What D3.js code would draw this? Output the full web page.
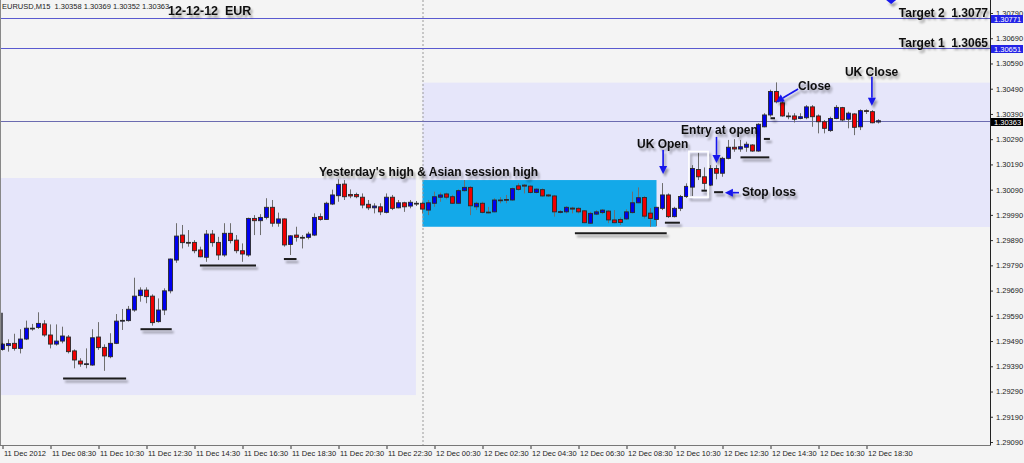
<!DOCTYPE html>
<html><head><meta charset="utf-8">
<script src="https://cdn.jsdelivr.net/npm/d3@7"></script>
<style>
html,body{margin:0;padding:0;background:#f4f4f4;}
svg{display:block;}
.lbl{font-family:"Liberation Sans",Arial,sans-serif;font-weight:bold;font-size:12px;fill:#111;white-space:pre;}
.ax text{font-family:"Liberation Sans",Arial,sans-serif;font-size:7.5px;fill:#222;}
.small{font-family:"Liberation Sans",Arial,sans-serif;font-size:7.5px;fill:#222;white-space:pre;}
</style></head><body>
<svg id="c" width="1024" height="463"></svg>
<script>
// ---- data (EURUSD M15, 11 Dec 06:30 -> 12 Dec 19:00) ----
const open=[1.29457,1.29472,1.29481,1.29461,1.29498,1.29541,1.29544,1.29558,1.29514,1.29478,
1.29490,1.29506,1.29451,1.29411,1.29399,1.29395,1.29506,1.29465,1.29428,1.29481,
1.29569,1.29571,1.29613,1.29670,1.29692,1.29668,1.29567,1.29613,1.29689,1.29811,
1.29910,1.29881,1.29881,1.29851,1.29822,1.29914,1.29881,1.29831,1.29917,1.29890,
1.29848,1.29831,1.29976,1.29967,1.29980,1.30020,1.29957,1.29974,1.29873,1.29910,
1.29901,1.29901,1.29910,1.29983,1.29972,1.30033,1.30066,1.30112,1.30071,1.30071,
1.30060,1.30032,1.30018,1.30022,1.30000,1.30060,1.30018,1.30038,1.30025,1.30036,
1.30036,1.30009,1.30036,1.30060,1.30073,1.30062,1.30036,1.30086,1.30099,1.30022,
1.30036,1.30000,1.30002,1.30048,1.30048,1.30049,1.30105,1.30108,1.30104,1.30079,
1.30090,1.30069,1.30065,1.30002,1.30002,1.30017,1.30016,1.30006,1.29957,1.29993,
1.29999,1.30005,1.29970,1.29972,1.29974,1.29999,1.30038,1.30059,1.29997,1.29972,
1.30016,1.30069,1.29983,1.30016,1.30063,1.30100,1.30170,1.30141,1.30108,1.30174,
1.30155,1.30214,1.30258,1.30251,1.30258,1.30267,1.30243,1.30339,1.30386,1.30479,
1.30434,1.30382,1.30382,1.30372,1.30375,1.30418,1.30382,1.30359,1.30324,1.30372,
1.30415,1.30369,1.30390,1.30339,1.30403,1.30399,1.30358];
const high=[1.29483,1.29497,1.29519,1.29537,1.29571,1.29558,1.29604,1.29573,1.29556,1.29556,
1.29547,1.29514,1.29457,1.29422,1.29461,1.29537,1.29565,1.29477,1.29521,1.29597,
1.29617,1.29629,1.29741,1.29703,1.29703,1.29675,1.29659,1.29699,1.29817,1.29957,
1.29950,1.29930,1.29890,1.29864,1.29930,1.29930,1.29903,1.29957,1.29957,1.29910,
1.29877,1.29979,1.29989,1.29993,1.30056,1.30049,1.29999,1.29976,1.29910,1.29943,
1.29910,1.29923,1.29996,1.29996,1.30042,1.30090,1.30131,1.30128,1.30091,1.30078,
1.30075,1.30049,1.30036,1.30036,1.30075,1.30069,1.30049,1.30042,1.30049,1.30045,
1.30042,1.30049,1.30082,1.30078,1.30078,1.30069,1.30091,1.30128,1.30104,1.30042,
1.30042,1.30022,1.30056,1.30060,1.30069,1.30098,1.30115,1.30112,1.30108,1.30095,
1.30095,1.30073,1.30069,1.30009,1.30025,1.30022,1.30020,1.30009,1.30002,1.30009,
1.30013,1.30009,1.30009,1.29980,1.30012,1.30082,1.30099,1.30065,1.30017,1.30022,
1.30116,1.30075,1.30022,1.30069,1.30115,1.30187,1.30236,1.30178,1.30187,1.30187,
1.30220,1.30287,1.30290,1.30287,1.30280,1.30270,1.30353,1.30393,1.30486,1.30515,
1.30442,1.30396,1.30393,1.30393,1.30425,1.30425,1.30388,1.30366,1.30379,1.30425,
1.30418,1.30399,1.30393,1.30408,1.30408,1.30405,1.30369];
const low=[1.29452,1.29448,1.29452,1.29441,1.29494,1.29531,1.29538,1.29507,1.29461,1.29472,
1.29481,1.29441,1.29382,1.29388,1.29382,1.29392,1.29455,1.29372,1.29422,1.29478,
1.29534,1.29567,1.29606,1.29646,1.29640,1.29551,1.29563,1.29593,1.29679,1.29800,
1.29857,1.29864,1.29838,1.29822,1.29804,1.29864,1.29811,1.29824,1.29877,1.29838,
1.29804,1.29824,1.29910,1.29910,1.29972,1.29943,1.29943,1.29864,1.29831,1.29884,
1.29857,1.29893,1.29906,1.29967,1.29970,1.30029,1.30042,1.30049,1.30056,1.30056,
1.30016,1.30009,1.29996,1.29989,1.29996,1.30009,1.30016,1.30002,1.30016,1.30025,
1.29996,1.29989,1.30022,1.30042,1.30052,1.30033,1.30033,1.30082,1.29989,1.30009,
1.29996,1.29996,1.30000,1.30036,1.30036,1.30046,1.30086,1.30075,1.30075,1.30075,
1.30062,1.30061,1.29983,1.29996,1.29996,1.29996,1.29996,1.29957,1.29954,1.29989,
1.29993,1.29957,1.29957,1.29950,1.29970,1.29996,1.30036,1.29976,1.29943,1.29946,
1.30009,1.29978,1.29980,1.30005,1.30057,1.30065,1.30128,1.30090,1.30104,1.30131,
1.30141,1.30210,1.30240,1.30240,1.30240,1.30240,1.30240,1.30337,1.30379,1.30432,
1.30379,1.30369,1.30356,1.30369,1.30369,1.30339,1.30313,1.30313,1.30319,1.30369,
1.30359,1.30333,1.30306,1.30326,1.30390,1.30353,1.30352];
const close=[1.29478,1.29480,1.29461,1.29498,1.29541,1.29540,1.29560,1.29514,1.29478,1.29490,
1.29510,1.29448,1.29415,1.29399,1.29400,1.29503,1.29464,1.29431,1.29481,1.29569,
1.29572,1.29616,1.29668,1.29692,1.29666,1.29563,1.29613,1.29689,1.29815,1.29906,
1.29880,1.29880,1.29848,1.29824,1.29914,1.29880,1.29831,1.29917,1.29888,1.29848,
1.29835,1.29976,1.29967,1.29980,1.30020,1.29957,1.29974,1.29871,1.29907,1.29901,
1.29900,1.29914,1.29980,1.29972,1.30036,1.30069,1.30111,1.30062,1.30065,1.30062,
1.30029,1.30018,1.30025,1.30002,1.30060,1.30016,1.30038,1.30022,1.30040,1.30035,
1.30013,1.30038,1.30062,1.30069,1.30060,1.30036,1.30086,1.30099,1.30026,1.30036,
1.30000,1.30001,1.30049,1.30049,1.30051,1.30094,1.30091,1.30104,1.30079,1.30092,
1.30065,1.30065,1.30002,1.30003,1.30020,1.30013,1.30002,1.29959,1.29996,1.30002,
1.30009,1.29970,1.29959,1.29960,1.30002,1.30038,1.30058,1.29985,1.29976,1.30020,
1.30069,1.29983,1.30016,1.30063,1.30103,1.30174,1.30141,1.30115,1.30174,1.30155,
1.30214,1.30258,1.30251,1.30260,1.30270,1.30243,1.30349,1.30386,1.30479,1.30438,
1.30382,1.30381,1.30369,1.30379,1.30418,1.30379,1.30359,1.30333,1.30372,1.30416,
1.30366,1.30393,1.30337,1.30403,1.30401,1.30355,1.30363];

const xTickLabels=["11 Dec 2012","11 Dec 08:30","11 Dec 10:30","11 Dec 12:30","11 Dec 14:30",
"11 Dec 16:30","11 Dec 18:30","11 Dec 20:30","11 Dec 22:30","12 Dec 00:30","12 Dec 02:30",
"12 Dec 04:30","12 Dec 06:30","12 Dec 08:30","12 Dec 10:30","12 Dec 12:30","12 Dec 14:30",
"12 Dec 16:30","12 Dec 18:30"];
const xTickBars=[0,8,16,24,32,40,48,56,64,72,80,88,96,104,112,120,128,136,144];
const yTickValues=[1.29090,1.29190,1.29290,1.29390,1.29490,1.29590,1.29690,1.29790,1.29890,
1.29990,1.30090,1.30190,1.30290,1.30390,1.30490,1.30590,1.30690,1.30790];
const targetPrices=[1.30771,1.30651];
const targetNames=["Target 2  1.3077","Target 1  1.3065"];
const lastPrice=1.30363;
const yesterdayHigh=1.30131;
const daySplitBar=70;
const headerText="EURUSD,M15  1.30358 1.30369 1.30352 1.30363";
const titleText="12-12-12  EUR";

// zones: [barFrom, barTo, priceTop, priceBottom]
const zonesLavender=[[-1,68.9,1.30136,1.29276],[70,166,1.30514,1.29942]];
const zoneAsian=[70,109,1.30128,1.29943];
// support marks [barFrom, barTo, price]
const marks=[[10.1,20.6,1.29342],[23.0,28.2,1.29537],[32.9,42.25,1.29789],[46.9,49.0,1.29815],
[95.4,110.7,1.29917],[110.4,112.9,1.29959],[123.0,127.8,1.30218],[116.5,117.4,1.30086],
[118.6,120.1,1.30080],[126.9,127.9,1.30291],[128.0,128.75,1.30373]];
const entryBox=[114.4,117.6,1.30241,1.30060];
// arrows [barFrom, priceFrom, barTo, priceTo]
const arrows=[[144.9,1.30537,144.9,1.30422],[132.6,1.30489,128.9,1.30437],
[119.0,1.30299,119.0,1.30196],[110.1,1.30247,110.1,1.30152],[122.75,1.30078,120.4,1.30078]];
// labels [text, bar, price]
const notes=[["Yesterday's high & Asian session high",52.75,1.30144],["UK Open",105.75,1.30255],
["Entry at open",113.1,1.30311],["Close",132.6,1.30485],["UK Close",140.4,1.30539],["Stop loss",123.25,1.30065]];

// ---- chart ----
const W=1024,H=463,plotR=990,plotB=445;
const svg=d3.select("#c");
const x=d3.scaleLinear().domain([0,146]).range([2.5,878.5]);
const y=d3.scaleLinear().domain([1.29090,1.30790]).range([442,13]);

const defs=svg.append("defs");
defs.append("clipPath").attr("id","clip").append("rect").attr("x",0).attr("y",0).attr("width",plotR).attr("height",plotB);
const f=defs.append("filter").attr("id","sh").attr("x","-20%").attr("y","-20%").attr("width","160%").attr("height","180%");
f.append("feDropShadow").attr("dx",2).attr("dy",3).attr("stdDeviation",1.3).attr("flood-color","#000").attr("flood-opacity",0.35);

svg.append("rect").attr("width",W).attr("height",H).attr("fill","#f4f4f4");
const P=svg.append("g").attr("clip-path","url(#clip)");

P.selectAll("rect.lav").data(zonesLavender).join("rect").attr("class","lav")
 .attr("x",d=>x(d[0])).attr("width",d=>x(d[1])-x(d[0]))
 .attr("y",d=>y(d[2])).attr("height",d=>y(d[3])-y(d[2])).attr("fill","#e6e6fa");
P.append("rect").attr("x",x(zoneAsian[0])).attr("width",x(zoneAsian[1])-x(zoneAsian[0]))
 .attr("y",y(zoneAsian[2])).attr("height",y(zoneAsian[3])-y(zoneAsian[2])).attr("fill","#13a9e9");

// day separator
P.append("line").attr("x1",x(daySplitBar)+0.5).attr("x2",x(daySplitBar)+0.5).attr("y1",0).attr("y2",plotB)
 .attr("stroke","#9a9a9a").attr("stroke-dasharray","2,2");

// price lines
P.selectAll("line.tg").data(targetPrices).join("line").attr("class","tg")
 .attr("x1",0).attr("x2",plotR).attr("y1",d=>Math.round(y(d))+0.5).attr("y2",d=>Math.round(y(d))+0.5)
 .attr("stroke","#5a5ad0").attr("stroke-width",1);
P.append("line").attr("x1",0).attr("x2",plotR).attr("y1",Math.round(y(lastPrice))+0.5).attr("y2",Math.round(y(lastPrice))+0.5)
 .attr("stroke","#6b6bb0");

// yesterday high dotted
svg.append("line").attr("x1",x(68.9)).attr("x2",992).attr("y1",Math.round(y(yesterdayHigh))+0.5).attr("y2",Math.round(y(yesterdayHigh))+0.5)
 .attr("stroke","#333").attr("stroke-dasharray","1,1").attr("filter","url(#sh)");

// candles
const idx=d3.range(open.length);
const cg=P.append("g");
cg.selectAll("line.w").data(idx).join("line").attr("class","w")
 .attr("x1",i=>x(i)).attr("x2",i=>x(i)).attr("y1",i=>y(high[i])).attr("y2",i=>y(low[i]))
 .attr("stroke","#6e6e6e").attr("stroke-width",1);
cg.selectAll("rect.b").data(idx).join("rect").attr("class","b")
 .attr("x",i=>x(i)-2).attr("width",4)
 .attr("y",i=>y(Math.max(open[i],close[i])))
 .attr("height",i=>Math.max(0.8,Math.abs(y(open[i])-y(close[i]))))
 .attr("fill",i=>close[i]>=open[i]?"#0000f0":"#f00000")
 .attr("stroke","#2a2a2a").attr("stroke-width",0.9);

// left edge marker
P.append("line").attr("x1",2).attr("x2",2).attr("y1",y(1.29602)).attr("y2",y(1.29455)).attr("stroke","#000").attr("stroke-width",1.2);

// annotations
const A=svg.append("g").attr("filter","url(#sh)");
A.selectAll("line.mk").data(marks).join("line").attr("class","mk")
 .attr("x1",d=>x(d[0])).attr("x2",d=>x(d[1])).attr("y1",d=>y(d[2])).attr("y2",d=>y(d[2]))
 .attr("stroke","#1a1a1a").attr("stroke-width",2);
A.append("rect").attr("x",x(entryBox[0])).attr("width",x(entryBox[1])-x(entryBox[0]))
 .attr("y",y(entryBox[2])).attr("height",y(entryBox[3])-y(entryBox[2]))
 .attr("fill","none").attr("stroke","#fff").attr("stroke-width",1.6);

const AC="#1414ec";
arrows.forEach(a=>{
  const x1=x(a[0]),y1=y(a[1]),x2=x(a[2]),y2=y(a[3]);
  const dx=x2-x1,dy=y2-y1,L=Math.hypot(dx,dy),ux=dx/L,uy=dy/L,hl=8,hw=4;
  const bx=x2-ux*hl,by=y2-uy*hl;
  A.append("line").attr("x1",x1).attr("y1",y1).attr("x2",bx).attr("y2",by).attr("stroke",AC).attr("stroke-width",1.6);
  A.append("path").attr("d",`M${x2},${y2}L${bx-uy*hw},${by+ux*hw}L${bx+uy*hw},${by-ux*hw}Z`).attr("fill",AC);
});
// partial arrow at the top edge
A.append("path").attr("d",`M${x(148.1)-5},0L${x(148.1)+5},0L${x(148.1)},${y(1.30826)}Z`).attr("fill",AC);

A.selectAll("text.n").data(notes).join("text").attr("class","lbl n")
 .attr("x",d=>x(d[1])).attr("y",d=>y(d[2])).text(d=>d[0]);
A.selectAll("text.t").data(targetPrices).join("text").attr("class","lbl t")
 .attr("x",988).attr("y",d=>y(d)-1).attr("text-anchor","end").text((d,i)=>targetNames[i]);

// axes
const yAxis=d3.axisRight(y).tickValues(yTickValues).tickSize(3).tickFormat(d3.format(".5f"));
const gy=svg.append("g").attr("class","ax").attr("transform",`translate(${plotR},0)`).call(yAxis);
gy.select(".domain").remove();
gy.selectAll("line").attr("stroke","#333");
gy.selectAll("text").attr("x",6).attr("dy","0.32em");

const xAxis=d3.axisBottom(x).tickValues(xTickBars).tickSize(4).tickFormat((d,i)=>xTickLabels[i]);
const gx=svg.append("g").attr("class","ax").attr("transform",`translate(0,${plotB})`).call(xAxis);
gx.select(".domain").remove();
gx.selectAll("line").attr("stroke","#333");
gx.selectAll("text").attr("text-anchor","start").attr("dx",1).attr("y",6);

svg.append("line").attr("x1",plotR+0.5).attr("x2",plotR+0.5).attr("y1",0).attr("y2",plotB+0.5).attr("stroke","#222");
svg.append("line").attr("x1",0).attr("x2",plotR+0.5).attr("y1",plotB+0.5).attr("y2",plotB+0.5).attr("stroke","#777");
svg.append("line").attr("x1",0.5).attr("x2",0.5).attr("y1",0).attr("y2",plotB).attr("stroke","#888");

// price tags
const tags=[[targetPrices[0],"#2323e6"],[targetPrices[1],"#2323e6"],[lastPrice,"#000"]];
tags.forEach(t=>{
  const yy=Math.round(y(t[0]));
  svg.append("rect").attr("x",plotR+1).attr("y",yy-3).attr("width",32).attr("height",8).attr("fill",t[1]);
  svg.append("text").attr("class","small").attr("x",plotR+4).attr("y",yy+3.5).style("fill","#fff").text(d3.format(".5f")(t[0]));
});

// header
svg.append("text").attr("class","small").attr("x",2).attr("y",9).text(headerText);
svg.append("text").attr("class","lbl").attr("x",168).attr("y",15).attr("filter","url(#sh)").style("font-size","12.5px").text(titleText);
</script>
</body></html>
